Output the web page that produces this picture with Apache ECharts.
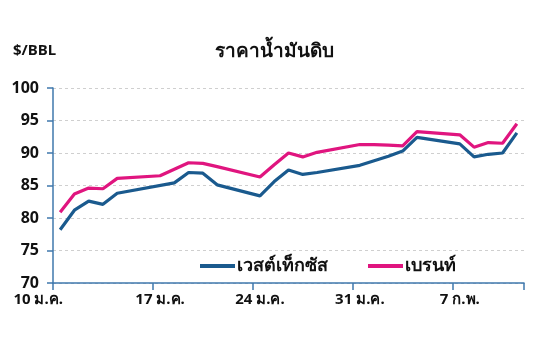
<!DOCTYPE html>
<html><head><meta charset="utf-8">
<script src="https://cdn.jsdelivr.net/npm/echarts@6/dist/echarts.min.js"></script>
<style>html,body{margin:0;padding:0;background:#fff}#c{width:548px;height:359px}</style>
</head><body><div id="c"></div>
<script>
// calendar days 10 Jan – 11 Feb
const categories = ['10','11','12','13','14','15','16','17','18','19','20','21','22','23','24','25','26','27','28','29','30','31','1','2','3','4','5','6','7','8','9','10','11'];
const tickLabels = ['10 ม.ค.','17 ม.ค.','24 ม.ค.','31 ม.ค.','7 ก.พ.'];
const wti   = [78.2,81.2,82.6,82.1,83.8,null,null,null,85.4,87.0,86.9,85.1,null,null,83.4,85.6,87.4,86.7,87.0,null,null,88.1,88.8,89.5,90.3,92.4,null,null,91.4,89.4,89.8,90.0,93.1];
const brent = [80.9,83.7,84.6,84.5,86.1,null,null,86.5,87.5,88.5,88.4,87.9,null,null,86.3,88.2,90.0,89.4,90.1,null,null,91.3,91.3,91.2,91.1,93.3,null,null,92.8,90.9,91.6,91.5,94.5];
const seriesNames = ['เวสต์เท็กซัส','เบรนท์'];
const title = 'ราคาน้ำมันดิบ';
const unit = '$/BBL';

const FONT = "'Noto Sans', 'Liberation Sans', sans-serif";
const chart = echarts.init(document.getElementById('c'));
chart.setOption({
  animation:false,
  backgroundColor:'#fff',
  title:[
    {text:title,left:'center',top:37,textStyle:{fontFamily:FONT,fontSize:19,fontWeight:'bold',color:'#111'}},
    {text:unit,left:8,top:38,textStyle:{fontFamily:FONT,fontSize:15,fontWeight:'bold',color:'#111'}}
  ],
  legend:{
    data:seriesNames,left:195,top:252,itemWidth:35,itemHeight:4,itemGap:40,icon:'rect',
    textStyle:{fontFamily:FONT,fontSize:18,fontWeight:'bold',color:'#111',padding:[0,0,0,-3]}
  },
  grid:{left:53,right:24,top:88,bottom:76,containLabel:false},
  xAxis:{
    type:'category',data:categories,boundaryGap:true,
    axisLine:{show:true,lineStyle:{color:'#3f78ad',width:1.5}},
    axisTick:{show:true,interval:6,length:7,lineStyle:{color:'#3f78ad',width:1.5}},
    axisLabel:{show:true,interval:6,margin:9,color:'#111',fontFamily:FONT,fontSize:15,fontWeight:'bold',
      formatter:function(v,i){const t=tickLabels[Math.round(i/7)]; return i===0?'{a|'+t+'}':t;},
      rich:{a:{padding:[0,44,0,0],fontFamily:FONT,fontSize:15,fontWeight:'bold',color:'#111'}}},
    splitLine:{show:false}
  },
  yAxis:{
    type:'value',min:70,max:100,interval:5,
    axisLine:{show:true,lineStyle:{color:'#3f78ad',width:1.5}},
    axisTick:{show:true,length:6,lineStyle:{color:'#3f78ad',width:1.5}},
    axisLabel:{margin:14,color:'#111',fontFamily:FONT,fontSize:16,fontWeight:'bold'},
    splitLine:{show:true,lineStyle:{color:'#cfcfcf',type:[3,3],width:1}}
  },
  series:[
    {name:seriesNames[0],type:'line',data:wti,connectNulls:true,symbol:'none',lineStyle:{color:'#1a5a8e',width:3.2},itemStyle:{color:'#1a5a8e'},z:3},
    {name:seriesNames[1],type:'line',data:brent,connectNulls:true,symbol:'none',lineStyle:{color:'#e0157f',width:3.2},itemStyle:{color:'#e0157f'},z:2}
  ]
});
</script></body></html>
